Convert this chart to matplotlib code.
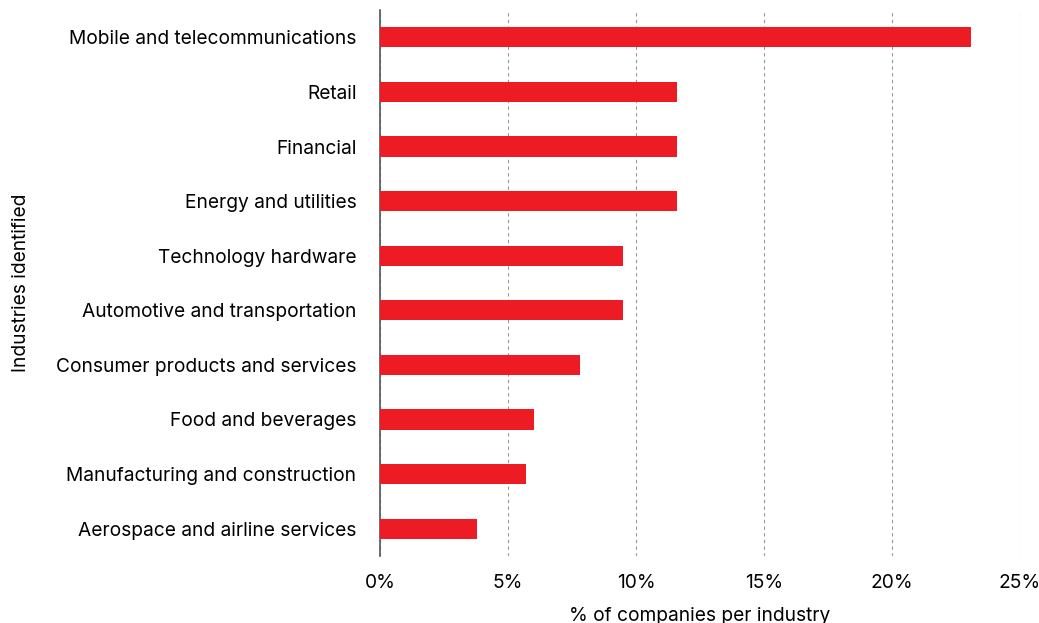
import numpy as np
import matplotlib.pyplot as plt

industries = ['Mobile and telecommunications', 'Retail', 'Financial', 'Energy and utilities',
              'Technology hardware', 'Automotive and transportation', 'Consumer products and services',
              'Food and beverages', 'Manufacturing and construction', 'Aerospace and airline services']
values = [23.1, 11.6, 11.6, 11.6, 9.5, 9.5, 7.8, 6.0, 5.7, 3.8]
xticks = [0, 5, 10, 15, 20, 25]

plt.rcParams['font.family'] = ['Inter', 'DejaVu Sans']

fig = plt.figure(figsize=(10.39, 6.23), dpi=100)
ax = fig.add_axes([380/1039, 67/623, 640/1039, 546/623])

y = np.arange(len(industries))[::-1]
ax.barh(y, values, height=0.37, color='#ED1C24', zorder=3)

ax.set_xlim(0, 25)
ax.set_ylim(-0.5, 9.5)
ax.set_yticks(y)
ax.set_yticklabels(industries, fontsize=13.8)
ax.set_xticks(xticks)
ax.set_xticklabels([f'{t}%' for t in xticks], fontsize=13.8)
ax.tick_params(length=0)
ax.tick_params(axis='y', pad=17)
ax.tick_params(axis='x', pad=13)

ax.grid(axis='x', linestyle=(0, (3, 3)), color='#999999', linewidth=0.8, zorder=0)
for s in ['top', 'right', 'bottom']:
    ax.spines[s].set_visible(False)
ax.spines['left'].set_color('#555555')
ax.spines['left'].set_linewidth(1.2)

ax.set_xlabel('% of companies per industry', fontsize=13.8, labelpad=11)
ax.set_ylabel('Industries identified', fontsize=13.8, labelpad=19)

fig.savefig('out.png', dpi=100)
